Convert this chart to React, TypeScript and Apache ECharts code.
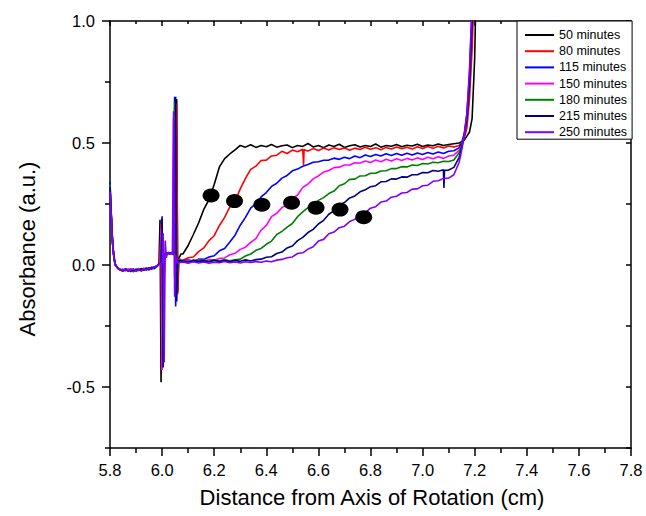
import React, { useEffect, useRef } from "react";
import * as echarts from "echarts";

const FONT = "'Liberation Sans', Arial, Helvetica, sans-serif";

const seriesNames = ["50 minutes", "80 minutes", "115 minutes", "150 minutes", "180 minutes", "215 minutes", "250 minutes"];
const seriesColors = ["#000000", "#ff0000", "#0000ff", "#ff00ff", "#008000", "#000080", "#8000ff"];

// sample positions near the meniscus (cm)
const frontDistance = [
  5.8, 5.805, 5.81, 5.815, 5.82, 5.83, 5.84, 5.85, 5.86, 5.87,
  5.88, 5.89, 5.9, 5.91, 5.92, 5.93, 5.94, 5.95, 5.96, 5.97,
  5.98, 5.988, 5.992, 5.996, 6.0, 6.004, 6.008, 6.012, 6.016, 6.02,
  6.025, 6.03, 6.035, 6.04, 6.044, 6.048, 6.052, 6.056, 6.06, 6.064,
  6.068, 6.072,
];
// sample positions of the boundary region (cm)
const mainDistance = [
  6.08, 6.1, 6.12, 6.14, 6.16, 6.18, 6.2, 6.22, 6.24, 6.26,
  6.28, 6.3, 6.32, 6.34, 6.36, 6.38, 6.4, 6.42, 6.44, 6.46,
  6.48, 6.5, 6.52, 6.54, 6.56, 6.58, 6.6, 6.62, 6.64, 6.66,
  6.68, 6.7, 6.72, 6.74, 6.76, 6.78, 6.8, 6.82, 6.84, 6.86,
  6.88, 6.9, 6.92, 6.94, 6.96, 6.98, 7.0, 7.02, 7.04, 7.06,
  7.08, 7.1, 7.12, 7.14, 7.15, 7.16, 7.17, 7.18, 7.19, 7.2, 7.21,
];

const front50 = [
  0.3, 0.19, 0.085, 0.03, 0.0, -0.013, -0.018, -0.022, -0.015, -0.024,
  -0.017, -0.026, -0.018, -0.023, -0.014, -0.021, -0.012, -0.017, -0.009, -0.012,
  -0.004, 0.004, 0.185, -0.48, 0.02, 0.042, 0.032, 0.046, 0.05, 0.046,
  0.052, 0.045, 0.05, 0.047, 0.042, 0.05, 0.045, 0.68, -0.11, 0.03,
  0.035, 0.045,
];
const front80 = [
  0.31, 0.2, 0.09, 0.033, 0.002, -0.011, -0.02, -0.018, -0.024, -0.016,
  -0.022, -0.019, -0.025, -0.016, -0.02, -0.013, -0.019, -0.011, -0.014, -0.008,
  -0.003, 0.006, 0.01, 0.17, -0.43, 0.015, 0.04, 0.048, 0.043, 0.05,
  0.046, 0.051, 0.044, 0.049, 0.045, 0.05, 0.048, 0.66, -0.12, 0.02,
  0.026, 0.018,
];
const front115 = [
  0.34, 0.21, 0.095, 0.036, 0.004, -0.014, -0.019, -0.025, -0.017, -0.021,
  -0.027, -0.018, -0.022, -0.015, -0.023, -0.016, -0.02, -0.012, -0.015, -0.007,
  -0.005, 0.004, 0.006, 0.012, 0.2, -0.41, 0.03, 0.046, 0.05, 0.044,
  0.05, 0.047, 0.052, 0.045, 0.05, 0.69, -0.17, 0.02, 0.025, 0.015,
  0.022, 0.016,
];
const front150 = [
  0.32, 0.2, 0.088, 0.032, 0.001, -0.012, -0.021, -0.017, -0.023, -0.019,
  -0.015, -0.024, -0.02, -0.014, -0.022, -0.017, -0.013, -0.018, -0.01, -0.013,
  -0.004, 0.005, 0.008, 0.15, -0.43, 0.1, -0.05, 0.04, 0.046, 0.05,
  0.045, 0.049, 0.046, 0.05, 0.6, -0.05, 0.62, -0.1, 0.02, 0.016,
  0.022, 0.015,
];
const front180 = [
  0.33, 0.205, 0.092, 0.034, 0.003, -0.015, -0.022, -0.026, -0.019, -0.024,
  -0.02, -0.028, -0.021, -0.017, -0.025, -0.019, -0.014, -0.02, -0.011, -0.015,
  -0.006, 0.003, 0.005, 0.008, 0.18, -0.4, 0.03, 0.045, 0.05, 0.046,
  0.051, 0.044, 0.05, 0.047, 0.05, 0.67, -0.08, 0.02, 0.018, 0.022,
  0.016, 0.02,
];
const front215 = [
  0.32, 0.2, 0.09, 0.034, 0.002, -0.013, -0.02, -0.023, -0.018, -0.025,
  -0.019, -0.023, -0.017, -0.022, -0.016, -0.021, -0.015, -0.019, -0.011, -0.014,
  -0.006, 0.004, 0.006, 0.01, 0.19, -0.42, 0.03, 0.046, 0.049, 0.045,
  0.05, 0.046, 0.051, 0.047, 0.05, 0.048, 0.69, -0.15, 0.02, 0.015,
  0.019, 0.014,
];
const front250 = [
  0.3, 0.19, 0.085, 0.03, 0.0, -0.012, -0.019, -0.024, -0.017, -0.026,
  -0.02, -0.015, -0.027, -0.019, -0.024, -0.016, -0.021, -0.014, -0.018, -0.01,
  -0.006, 0.002, 0.004, 0.006, 0.01, 0.13, -0.4, 0.1, 0.03, 0.045,
  0.05, 0.046, 0.05, 0.047, 0.63, -0.13, 0.04, 0.01, 0.013, 0.009,
  0.012, 0.01,
];

const main50 = [
  0.045, 0.08, 0.125, 0.172, 0.228, 0.268, 0.33, 0.402, 0.436, 0.455,
  0.472, 0.49, 0.483, 0.493, 0.482, 0.49, 0.485, 0.494, 0.483, 0.489,
  0.492, 0.481, 0.49, 0.486, 0.498, 0.484, 0.49, 0.481, 0.492, 0.486,
  0.495, 0.482, 0.489, 0.493, 0.484, 0.49, 0.486, 0.496, 0.483, 0.49,
  0.487, 0.494, 0.485, 0.491, 0.488, 0.495, 0.486, 0.492, 0.489, 0.496,
  0.49, 0.494, 0.497, 0.5, 0.505, 0.512, 0.528, 0.545, 0.6, 0.85, 1.4,
];
const main80 = [
  0.02, 0.03, 0.033, 0.055, 0.07, 0.1, 0.12, 0.162, 0.195, 0.238,
  0.262, 0.312, 0.355, 0.392, 0.405, 0.428, 0.43, 0.447, 0.45, 0.466,
  0.457, 0.471, 0.464, 0.474, 0.467, 0.477, 0.469, 0.479, 0.471, 0.481,
  0.473, 0.48, 0.47, 0.479, 0.473, 0.483, 0.474, 0.481, 0.472, 0.482,
  0.475, 0.484, 0.476, 0.483, 0.475, 0.485, 0.477, 0.486, 0.478, 0.487,
  0.48, 0.488, 0.484, 0.49, 0.5, 0.52, 0.56, 0.68, 0.88, 1.2, 1.5,
];
const main115 = [
  0.015, 0.022, 0.014, 0.024, 0.023, 0.033, 0.038, 0.058, 0.068, 0.094,
  0.122, 0.163, 0.195, 0.233, 0.252, 0.279, 0.297, 0.322, 0.335, 0.356,
  0.367, 0.386, 0.393, 0.405, 0.412, 0.421, 0.423, 0.429, 0.43, 0.438,
  0.433, 0.442, 0.436, 0.447, 0.44, 0.451, 0.445, 0.453, 0.447, 0.456,
  0.449, 0.457, 0.45, 0.458, 0.451, 0.459, 0.453, 0.461, 0.455, 0.463,
  0.457, 0.466, 0.468, 0.48, 0.5, 0.54, 0.62, 0.78, 1.05, 1.4, 1.6,
];
const main150 = [
  0.015, 0.02, 0.013, 0.021, 0.016, 0.023, 0.019, 0.027, 0.029, 0.042,
  0.048, 0.064, 0.073, 0.093, 0.108, 0.143, 0.162, 0.198, 0.212, 0.235,
  0.247, 0.273, 0.287, 0.318, 0.332, 0.353, 0.365, 0.381, 0.387, 0.399,
  0.401, 0.41, 0.41, 0.419, 0.418, 0.426, 0.42, 0.43, 0.423, 0.433,
  0.426, 0.435, 0.428, 0.437, 0.43, 0.439, 0.432, 0.442, 0.435, 0.444,
  0.437, 0.447, 0.45, 0.47, 0.49, 0.53, 0.61, 0.76, 1.02, 1.4, 1.6,
];
const main180 = [
  0.018, 0.013, 0.021, 0.015, 0.02, 0.014, 0.021, 0.016, 0.022, 0.017,
  0.021, 0.024, 0.037, 0.045, 0.06, 0.068, 0.085, 0.098, 0.125, 0.138,
  0.155, 0.17, 0.198, 0.218, 0.235, 0.243, 0.265, 0.276, 0.293, 0.303,
  0.325, 0.333, 0.351, 0.352, 0.365, 0.366, 0.376, 0.376, 0.385, 0.386,
  0.395, 0.395, 0.403, 0.402, 0.41, 0.408, 0.416, 0.414, 0.421, 0.419,
  0.425, 0.424, 0.43, 0.46, 0.49, 0.53, 0.6, 0.74, 1.0, 1.35, 1.6,
];
const main215 = [
  0.016, 0.012, 0.018, 0.014, 0.017, 0.013, 0.019, 0.014, 0.018, 0.013,
  0.019, 0.015, 0.021, 0.016, 0.022, 0.024, 0.032, 0.034, 0.047, 0.053,
  0.07, 0.078, 0.1, 0.113, 0.133, 0.146, 0.168, 0.183, 0.208, 0.223,
  0.245, 0.256, 0.275, 0.283, 0.3, 0.308, 0.321, 0.325, 0.341, 0.342,
  0.353, 0.352, 0.361, 0.36, 0.37, 0.37, 0.379, 0.378, 0.387, 0.384,
  0.39, 0.389, 0.4, 0.44, 0.48, 0.53, 0.6, 0.74, 1.0, 1.35, 1.6,
];
const main250 = [
  0.012, 0.007, 0.013, 0.008, 0.012, 0.007, 0.011, 0.009, 0.014, 0.009,
  0.012, 0.008, 0.013, 0.01, 0.014, 0.011, 0.016, 0.013, 0.02, 0.023,
  0.03, 0.033, 0.047, 0.05, 0.065, 0.075, 0.098, 0.105, 0.128, 0.135,
  0.153, 0.159, 0.178, 0.187, 0.208, 0.215, 0.233, 0.239, 0.258, 0.262,
  0.278, 0.282, 0.295, 0.297, 0.311, 0.312, 0.325, 0.327, 0.343, 0.345,
  0.355, 0.356, 0.37, 0.42, 0.47, 0.53, 0.62, 0.8, 1.08, 1.4, 1.6,
];

// isolated glitches [distance, absorbance]
const glitch80 = [[6.543, 0.41], [6.545, 0.472]];
const glitch215 = [[7.082, 0.316], [7.084, 0.388]];

const frontValues = [front50, front80, front115, front150, front180, front215, front250];
const mainValues = [main50, main80, main115, main150, main180, main215, main250];
const glitchValues: number[][][] = [[], glitch80, [], [], [], glitch215, []];

// black ellipse markers
const markerDistance = [6.188, 6.278, 6.383, 6.497, 6.591, 6.683, 6.774];
const markerAbsorbance = [0.285, 0.262, 0.247, 0.255, 0.235, 0.227, 0.196];

const yMajorTicks = [-0.5, 0, 0.5, 1.0];
const yMinorTicks = [-0.75, -0.25, 0.25, 0.75];
const yAllTicks = [-0.75, -0.5, -0.25, 0, 0.25, 0.5, 0.75, 1.0];

function buildSeriesData(i: number): number[][] {
  const pts: number[][] = [];
  const f = frontValues[i];
  for (let k = 0; k < Math.min(f.length, frontDistance.length); k++) pts.push([frontDistance[k], f[k]]);
  const m = mainValues[i];
  for (let k = 0; k < Math.min(m.length, mainDistance.length); k++) pts.push([mainDistance[k], m[k]]);
  for (const g of glitchValues[i]) pts.push([g[0], g[1]]);
  pts.sort((a, b) => a[0] - b[0]);
  return pts;
}

export default function App() {
  const ref = useRef<HTMLDivElement>(null);
  useEffect(() => {
    if (!ref.current) return;
    const chart = echarts.init(ref.current, null, { renderer: "svg" });
    const axisLineStyle = { color: "#000", width: 1.5 };
    const lineSeries = seriesNames.map((name, i) => ({
      name,
      type: "line",
      data: buildSeriesData(i),
      symbol: "none",
      showSymbol: false,
      clip: true,
      color: seriesColors[i],
      lineStyle: { color: seriesColors[i], width: 1.6 },
      xAxisIndex: 0,
      yAxisIndex: 0,
    }));
    chart.setOption({
      animation: false,
      backgroundColor: "#fff",
      textStyle: { fontFamily: FONT },
      grid: { left: 110, top: 21, width: 521, height: 427, containLabel: false },
      legend: {
        data: seriesNames,
        orient: "vertical",
        left: 517,
        top: 21,
        padding: [7, 5, 0, 8],
        itemGap: 2.2,
        itemWidth: 29,
        itemHeight: 2,
        icon: "rect",
        borderColor: "#000",
        borderWidth: 1,
        backgroundColor: "#fff",
        textStyle: { fontSize: 12.5, color: "#000", fontFamily: FONT, lineHeight: 14 },
      },
      xAxis: [
        {
          type: "value",
          position: "bottom",
          min: 5.8,
          max: 7.8,
          interval: 0.2,
          axisLine: { show: true, onZero: false, lineStyle: axisLineStyle },
          axisTick: { show: true, length: 8, lineStyle: axisLineStyle },
          minorTick: { show: true, splitNumber: 2, length: 5, lineStyle: axisLineStyle },
          splitLine: { show: false },
          axisLabel: {
            fontSize: 16.5,
            color: "#000",
            margin: 13,
            fontFamily: FONT,
            formatter: (v: number) => v.toFixed(1),
          },
        },
        {
          type: "value",
          position: "top",
          min: 5.8,
          max: 7.8,
          interval: 0.2,
          axisLine: { show: true, onZero: false, lineStyle: axisLineStyle },
          axisTick: { show: true, inside: true, length: 5, lineStyle: axisLineStyle },
          minorTick: { show: true, splitNumber: 2, length: 3, lineStyle: axisLineStyle },
          splitLine: { show: false },
          axisLabel: { show: false },
        },
      ],
      yAxis: [
        {
          type: "value",
          position: "left",
          min: -0.75,
          max: 1.0,
          axisLine: { show: true, onZero: false, lineStyle: axisLineStyle },
          axisTick: { show: true, length: 8, customValues: yMajorTicks, lineStyle: axisLineStyle },
          splitLine: { show: false },
          axisLabel: {
            customValues: yMajorTicks,
            fontSize: 16.5,
            color: "#000",
            margin: 15,
            fontFamily: FONT,
            formatter: (v: number) => v.toFixed(1),
          },
        },
        {
          type: "value",
          position: "left",
          min: -0.75,
          max: 1.0,
          axisLine: { show: false },
          axisTick: { show: true, length: 5, customValues: yMinorTicks, lineStyle: axisLineStyle },
          splitLine: { show: false },
          axisLabel: { show: false },
        },
        {
          type: "value",
          position: "right",
          min: -0.75,
          max: 1.0,
          axisLine: { show: true, onZero: false, lineStyle: axisLineStyle },
          axisTick: { show: true, inside: true, length: 5, customValues: yAllTicks, lineStyle: axisLineStyle },
          splitLine: { show: false },
          axisLabel: { show: false },
        },
      ],
      series: [
        ...lineSeries,
        {
          name: "markers",
          type: "scatter",
          data: markerDistance.map((x, i) => [x, markerAbsorbance[i]]),
          symbol: "circle",
          symbolSize: [17, 14],
          itemStyle: { color: "#000", opacity: 1 },
          z: 5,
          xAxisIndex: 0,
          yAxisIndex: 0,
        },
      ],
      graphic: [
        {
          type: "text",
          x: 27,
          y: 249,
          rotation: Math.PI / 2,
          style: {
            text: "Absorbance (a.u.)",
            fontSize: 22,
            fontFamily: FONT,
            fill: "#000",
            align: "center",
            verticalAlign: "middle",
          },
        },
        {
          type: "text",
          x: 372,
          y: 497,
          style: {
            text: "Distance from Axis of Rotation (cm)",
            fontSize: 22,
            fontFamily: FONT,
            fill: "#000",
            align: "center",
            verticalAlign: "middle",
          },
        },
      ],
    });
    return () => chart.dispose();
  }, []);
  return (
    <div
      ref={ref}
      style={{ position: "fixed", left: 0, top: 0, width: 646, height: 516, background: "#fff" }}
    />
  );
}
